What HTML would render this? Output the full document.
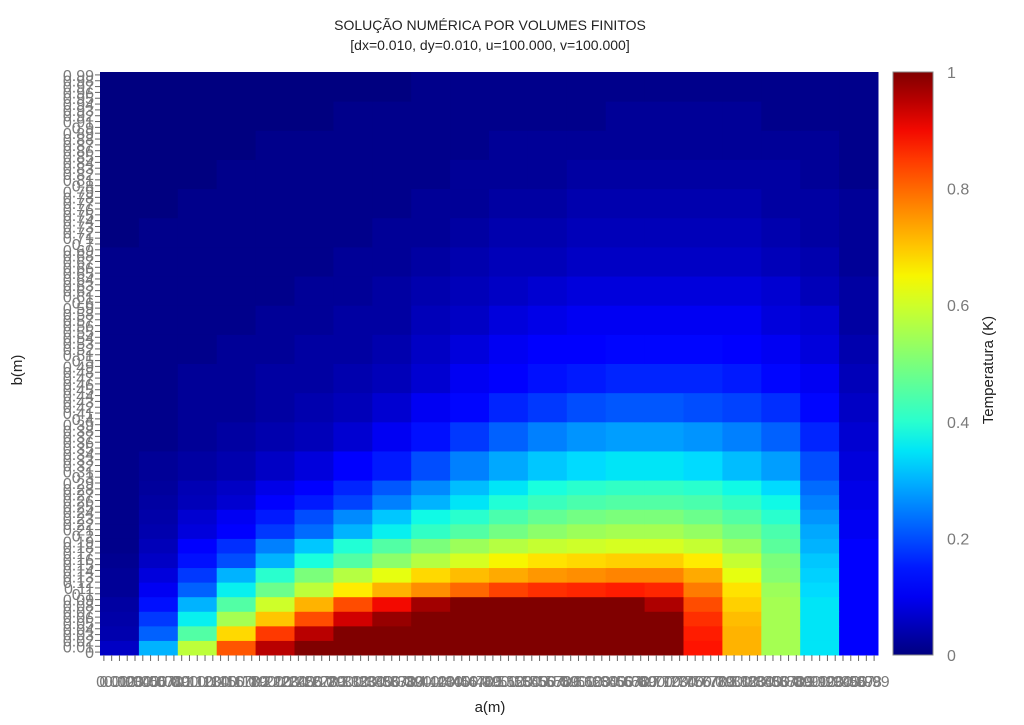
<!DOCTYPE html>
<html><head><meta charset="utf-8">
<style>
body{margin:0;background:#fff;width:1024px;height:720px;overflow:hidden;font-family:"Liberation Sans",sans-serif;}
svg text{font-family:"Liberation Sans",sans-serif;}
</style></head><body>
<svg id="chart" width="1024" height="720" xmlns="http://www.w3.org/2000/svg">
<text x="490" y="30" text-anchor="middle" font-size="14" fill="#222">SOLUÇÃO NUMÉRICA POR VOLUMES FINITOS</text>
<text x="490" y="50" text-anchor="middle" font-size="14" fill="#222">[dx=0.010, dy=0.010, u=100.000, v=100.000]</text>
<g id="cells"></g>
<g id="xticks"></g>
<g id="yticks"></g>
<defs><linearGradient id="cbg" x1="0" y1="1" x2="0" y2="0"></linearGradient></defs>
<rect x="893" y="72" width="40" height="583" fill="url(#cbg)" stroke="#888" stroke-width="1"/>
<g id="cbticks"></g>
<text transform="translate(993,370) rotate(-90)" text-anchor="middle" font-size="15" fill="#222">Temperatura (K)</text>
<text x="490" y="712" text-anchor="middle" font-size="15" fill="#222">a(m)</text>
<text transform="translate(22,370) rotate(-90)" text-anchor="middle" font-size="15" fill="#222">b(m)</text>
</svg>
<script>
const xCenters=[0.025,0.075,0.125,0.175,0.225,0.275,0.325,0.375,0.425,0.475,0.525,0.575,0.625,0.675,0.725,0.775,0.825,0.875,0.925,0.975];
const yCenters=[0.0125,0.0375,0.0625,0.0875,0.1125,0.1375,0.1625,0.1875,0.2125,0.2375,0.2625,0.2875,0.325,0.375,0.425,0.475,0.525,0.575,0.625,0.675,0.725,0.775,0.825,0.875,0.925,0.975];
const yBinSize=[0.025,0.025,0.025,0.025,0.025,0.025,0.025,0.025,0.025,0.025,0.025,0.025,0.05,0.05,0.05,0.05,0.05,0.05,0.05,0.05,0.05,0.05,0.05,0.05,0.05,0.05];
const xBinSize=0.05;
const temps=[
[.06,.3,.58,.82,.95,1,1,1,1,1,1,1,1,1,1,.89,.72,.55,.35,.12],
[.04,.22,.45,.68,.85,.95,1,1,1,1,1,1,1,1,1,.88,.72,.55,.35,.12],
[.035,.18,.36,.55,.7,.83,.93,.98,1,1,1,1,1,1,1,.86,.71,.55,.35,.12],
[.03,.14,.3,.45,.6,.72,.83,.9,.97,1,1,1,1,1,.96,.83,.69,.55,.35,.12],
[.02,.1,.22,.36,.48,.58,.66,.72,.76,.8,.84,.86,.87,.88,.87,.78,.67,.54,.34,.12],
[.02,.08,.18,.3,.4,.5,.57,.63,.68,.71,.73,.75,.76,.77,.77,.73,.63,.51,.33,.12],
[.015,.06,.14,.2,.3,.38,.45,.52,.57,.61,.65,.67,.68,.69,.69,.66,.59,.5,.32,.11],
[.01,.05,.11,.17,.25,.32,.39,.45,.5,.54,.57,.59,.6,.61,.61,.59,.54,.46,.3,.11],
[.01,.04,.08,.12,.18,.23,.3,.36,.41,.45,.49,.52,.54,.55,.55,.53,.49,.44,.29,.1],
[.01,.035,.07,.1,.15,.2,.26,.32,.37,.4,.44,.47,.49,.5,.5,.48,.45,.4,.27,.1],
[.01,.03,.05,.07,.11,.15,.19,.25,.3,.35,.39,.42,.44,.45,.45,.44,.41,.37,.25,.09],
[.01,.025,.045,.06,.09,.12,.16,.21,.26,.31,.35,.38,.4,.41,.41,.4,.37,.34,.23,.09],
[.01,.02,.03,.04,.06,.08,.11,.15,.2,.25,.29,.32,.34,.35,.35,.34,.31,.28,.2,.08],
[.01,.01,.02,.03,.04,.05,.07,.1,.14,.18,.22,.25,.27,.28,.28,.27,.25,.22,.16,.07],
[.01,.01,.02,.02,.03,.04,.05,.07,.1,.13,.16,.18,.2,.21,.21,.2,.19,.17,.13,.06],
[.01,.01,.02,.02,.03,.03,.04,.05,.07,.1,.12,.14,.15,.16,.16,.16,.15,.13,.1,.05],
[.01,.01,.01,.02,.02,.03,.03,.04,.06,.08,.1,.11,.12,.13,.13,.13,.12,.1,.08,.04],
[.01,.01,.01,.01,.02,.02,.03,.03,.05,.06,.08,.09,.1,.1,.1,.1,.1,.08,.07,.03],
[.01,.01,.01,.01,.01,.02,.02,.03,.04,.05,.06,.07,.08,.08,.08,.08,.08,.07,.05,.03],
[.01,.01,.01,.01,.01,.01,.02,.02,.03,.04,.05,.05,.06,.06,.06,.06,.06,.05,.04,.02],
[0,.01,.01,.01,.01,.01,.01,.02,.02,.03,.04,.04,.05,.05,.05,.05,.05,.04,.03,.02],
[0,0,.01,.01,.01,.01,.01,.01,.02,.02,.03,.03,.04,.04,.04,.04,.04,.03,.03,.02],
[0,0,0,.01,.01,.01,.01,.01,.01,.02,.02,.02,.03,.03,.03,.03,.03,.03,.02,.01],
[0,0,0,0,.01,.01,.01,.01,.01,.01,.02,.02,.02,.02,.02,.02,.02,.02,.02,.01],
[0,0,0,0,0,0,.01,.01,.01,.01,.01,.01,.01,.02,.02,.02,.02,.01,.01,.01],
[0,0,0,0,0,0,0,0,.01,.01,.01,.01,.01,.01,.01,.01,.01,.01,.01,.01]
];
const cbTicks=[0,0.2,0.4,0.6,0.8,1];
const PL=100,PR=878,PT=72,PB=655;
const xs=v=>PL+v*(PR-PL);
const ys=v=>PB-v*(PB-PT);
const NS='http://www.w3.org/2000/svg';
function lerp(a,b,t){return a+(b-a)*t;}
function ramp(v,pts){for(let i=0;i<pts.length-1;i++){if(v<=pts[i+1][0]){const t=(v-pts[i][0])/(pts[i+1][0]-pts[i][0]);return lerp(pts[i][1],pts[i+1][1],t);}}return pts[pts.length-1][1];}
function jet(v){v=Math.max(0,Math.min(1,v));
 const r=ramp(v,[[0,0],[0.35,0],[0.66,1],[0.89,1],[1,0.5]]);
 const g=ramp(v,[[0,0],[0.125,0],[0.375,1],[0.64,1],[0.91,0],[1,0]]);
 const b=ramp(v,[[0,0.5],[0.11,1],[0.34,1],[0.65,0],[1,0]]);
 return `rgb(${Math.round(r*255)},${Math.round(g*255)},${Math.round(b*255)})`;}
const cells=document.getElementById('cells');
temps.forEach((row,ri)=>row.forEach((val,ci)=>{
 const r=document.createElementNS(NS,'rect');
 const x0=xs(xCenters[ci]-xBinSize/2), x1=xs(xCenters[ci]+xBinSize/2);
 const y0=ys(yCenters[ri]+yBinSize[ri]/2), y1=ys(yCenters[ri]-yBinSize[ri]/2);
 r.setAttribute('x',x0);r.setAttribute('y',y0);
 r.setAttribute('width',x1-x0+0.5);r.setAttribute('height',y1-y0+0.5);
 r.setAttribute('fill',jet(val));
 
 
 cells.appendChild(r);
}));
const xt=document.getElementById('xticks'), yt=document.getElementById('yticks');
for(let i=0;i<100;i++){
 const v=i/100, lab=String(+v.toFixed(2));
 const px=xs((i+0.5)/100), py=ys((i+0.5)/100);
 const l=document.createElementNS(NS,'line');
 l.setAttribute('x1',px);l.setAttribute('x2',px);l.setAttribute('y1',PB);l.setAttribute('y2',PB+6);
 l.setAttribute('stroke','#666');
 
 
 xt.appendChild(l);
 const t=document.createElementNS(NS,'text');
 t.setAttribute('x',px);t.setAttribute('y',687);t.setAttribute('text-anchor','middle');
 t.setAttribute('font-size','16');t.setAttribute('fill','#7a7a7a');t.textContent=lab;
 
 
 xt.appendChild(t);
 const l2=document.createElementNS(NS,'line');
 l2.setAttribute('x1',PL-5);l2.setAttribute('x2',PL);l2.setAttribute('y1',py);l2.setAttribute('y2',py);
 l2.setAttribute('stroke','#666');
 
 
 yt.appendChild(l2);
 const t2=document.createElementNS(NS,'text');
 t2.setAttribute('x',PL-6);t2.setAttribute('y',py+6);t2.setAttribute('text-anchor','end');
 t2.setAttribute('font-size','16');t2.setAttribute('fill','#7a7a7a');t2.textContent=lab;
 
 
 yt.appendChild(t2);
}
const grad=document.getElementById('cbg');
for(let i=0;i<=20;i++){const s=document.createElementNS(NS,'stop');s.setAttribute('offset',i/20);s.setAttribute('stop-color',jet(i/20));grad.appendChild(s);}
const cb=document.getElementById('cbticks');
cbTicks.forEach(v=>{
 const t=document.createElementNS(NS,'text');
 t.setAttribute('x',947);t.setAttribute('y',ys(v)+6);t.setAttribute('font-size','16');t.setAttribute('fill','#7a7a7a');
 t.textContent=String(v);
 
 
 cb.appendChild(t);
});
</script>
</body></html>
